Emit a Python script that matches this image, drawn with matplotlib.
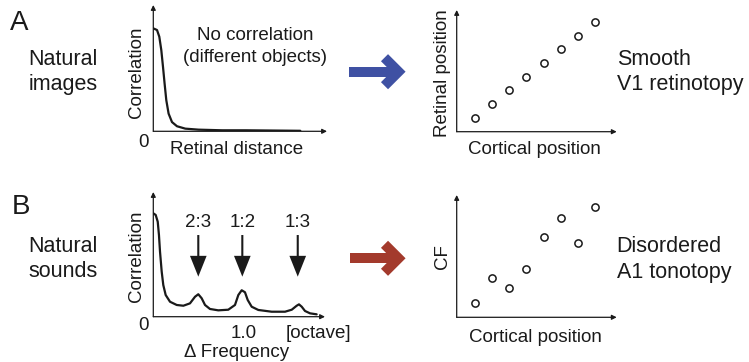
import matplotlib
matplotlib.use("Agg")
import matplotlib.pyplot as plt
from matplotlib.lines import Line2D
from matplotlib.transforms import Affine2D

plt.rcParams['font.family'] = ['Liberation Sans', 'DejaVu Sans']

W, H = 749, 362
TXT = '#1a1a1a'

# ---------------- data ----------------
# Panel A: correlation vs retinal distance (arbitrary units)
img_dist = [0.0, 0.37, 0.6, 0.8, 0.97, 1.13, 1.3, 1.53, 1.87, 2.37, 3.2, 4.53, 6.87, 9.2, 12.0, 14.7]
img_corr = [0.815, 0.802, 0.749, 0.643, 0.510, 0.378, 0.246, 0.140, 0.073, 0.040,
            0.021, 0.013, 0.008, 0.008, 0.006, 0.004]

# Panel B: correlation vs frequency difference (octaves)
snd_oct = [0.0, 0.027, 0.050, 0.064, 0.076, 0.095, 0.113, 0.140, 0.189, 0.265, 0.340,
           0.415, 0.472, 0.509, 0.547, 0.585, 0.641, 0.735, 0.848, 0.924, 0.962, 1.0,
           1.037, 1.068, 1.113, 1.188, 1.339, 1.490, 1.566, 1.622, 1.648, 1.679, 1.716,
           1.773, 1.848]
snd_corr = [0.829, 0.816, 0.762, 0.655, 0.521, 0.361, 0.254, 0.174, 0.120, 0.094, 0.088,
            0.107, 0.160, 0.180, 0.148, 0.094, 0.062, 0.051, 0.056, 0.094, 0.174, 0.212,
            0.196, 0.134, 0.080, 0.054, 0.040, 0.040, 0.056, 0.088, 0.099, 0.080, 0.046,
            0.027, 0.019]
ratio_labels = ['2:3', '1:2', '1:3']
ratio_oct = [0.509, 1.007, 1.634]

# Right panels: maps
cortical_pos = [1, 2, 3, 4, 5, 6, 7, 8]
retinal_pos = [1, 2, 3, 4, 5, 6, 7, 8]
cf_vals = [1.02, 2.85, 2.12, 3.51, 5.85, 7.29, 5.46, 8.05]

# ---------------- helpers ----------------
fig = plt.figure(figsize=(W / 100, H / 100), dpi=100)
pix = Affine2D().scale(1 / W, -1 / H).translate(0, 1) + fig.transFigure


def P(x, y):
    return (x / W, 1 - y / H)


def axes_px(x0, y0, x1, y1):
    """x0,y0 = origin (bottom-left) in px from top-left; x1 = right end, y1 = top"""
    ax = fig.add_axes([x0 / W, 1 - y0 / H, (x1 - x0) / W, (y0 - y1) / H])
    ax.set_axis_off()
    for xy in [(1, 0), (0, 1)]:
        ax.annotate('', xy=xy, xytext=(0, 0), xycoords='axes fraction',
                    textcoords='axes fraction',
                    arrowprops=dict(arrowstyle='-|>', lw=0.9, color=TXT,
                                    mutation_scale=7, shrinkA=0, shrinkB=0))
    return ax


def text(x, y, s, size, ha='center', **kw):
    fig.text(*P(x, y), s, fontsize=size, ha=ha, va='baseline', color=TXT, **kw)


def vtext(x, y, s, size):
    fig.text(*P(x, y), s, fontsize=size, ha='center', va='baseline', rotation=90,
             rotation_mode='anchor', color=TXT)


def big_arrow(x0, xc, y, color):
    # shaft
    fig.add_artist(Line2D([x0, xc - 1], [y, y], transform=pix, lw=7.2, color=color,
                          solid_capstyle='butt'))
    # chevron head
    fig.add_artist(Line2D([xc - 14, xc, xc - 14], [y - 14, y, y + 14], transform=pix,
                          lw=7.2, color=color, solid_capstyle='butt',
                          solid_joinstyle='miter'))


# ---------------- Panel A ----------------
text(19.5, 29.5, 'A', 20)
text(63, 65, 'Natural', 15.5)
text(63, 90, 'images', 15.5)

axA = axes_px(153.3, 131.3, 327, 5)
axA.plot(img_dist, img_corr, color=TXT, lw=1.6, solid_capstyle='round')
axA.set_xlim(0, (327 - 153.3) / 10)
axA.set_ylim(0, 1)
vtext(141.5, 72.5, 'Correlation', 13.5)
text(143.3, 146.5, '0', 13.5)
text(236.7, 154, 'Retinal distance', 13.5)
text(255, 40, 'No correlation', 13.5)
text(255, 61.5, '(different objects)', 13.5)

big_arrow(349, 398.5, 71.7, '#3F51A3')

axA2 = axes_px(456.7, 131.7, 616.7, 10)
axA2.plot(cortical_pos, retinal_pos, 'o', ms=5.2, mfc='white', mec=TXT, mew=1.1)
axA2.set_xlim(-0.07, 9.27)
axA2.set_ylim(-0.02, 8.88)
vtext(446.5, 73.3, 'Retinal position', 13.5)
text(534, 154.3, 'Cortical position', 13.5)
text(616.7, 65, 'Smooth', 15.5, ha='left')
text(616.7, 90, 'V1 retinotopy', 15.5, ha='left')

# ---------------- Panel B ----------------
text(21, 214.3, 'B', 20)
text(63, 251.7, 'Natural', 15.5)
text(63, 276.7, 'sounds', 15.5)

axB = axes_px(153.3, 316.7, 325, 192)
axB.plot(snd_oct, snd_corr, color=TXT, lw=1.6, solid_capstyle='round')
axB.set_xlim(0, (325 - 153.3) / 88.4)
axB.set_ylim(0, 1)
for lab, xo in zip(ratio_labels, ratio_oct):
    axB.annotate('', xy=(xo, 0.321), xytext=(xo, 0.655),
                 arrowprops=dict(facecolor=TXT, edgecolor='none', width=1.5,
                                 headwidth=12, headlength=15, shrink=0))
    text(153.3 + xo * 88.4, 226.7, lab, 13.5)
vtext(141.5, 256.7, 'Correlation', 13.5)
text(143.3, 330.5, '0', 13.5)
text(243.3, 338.3, '1.0', 13.5)
text(318.3, 338.3, '[octave]', 13.5)
text(236.7, 356.7, 'Δ Frequency', 13.5)

big_arrow(350, 398.5, 258.3, '#A33A2C')

axB2 = axes_px(456.7, 317.3, 616.7, 195)
axB2.plot(cortical_pos, cf_vals, 'o', ms=5.2, mfc='white', mec=TXT, mew=1.1)
axB2.set_xlim(-0.07, 9.27)
axB2.set_ylim(0, 8.95)
vtext(446.7, 256.7, 'CF', 13.5)
text(535, 341.7, 'Cortical position', 13.5)
text(616.7, 251.7, 'Disordered', 15.5, ha='left')
text(616.7, 278.3, 'A1 tonotopy', 15.5, ha='left')

fig.savefig('out.png', dpi=100)
